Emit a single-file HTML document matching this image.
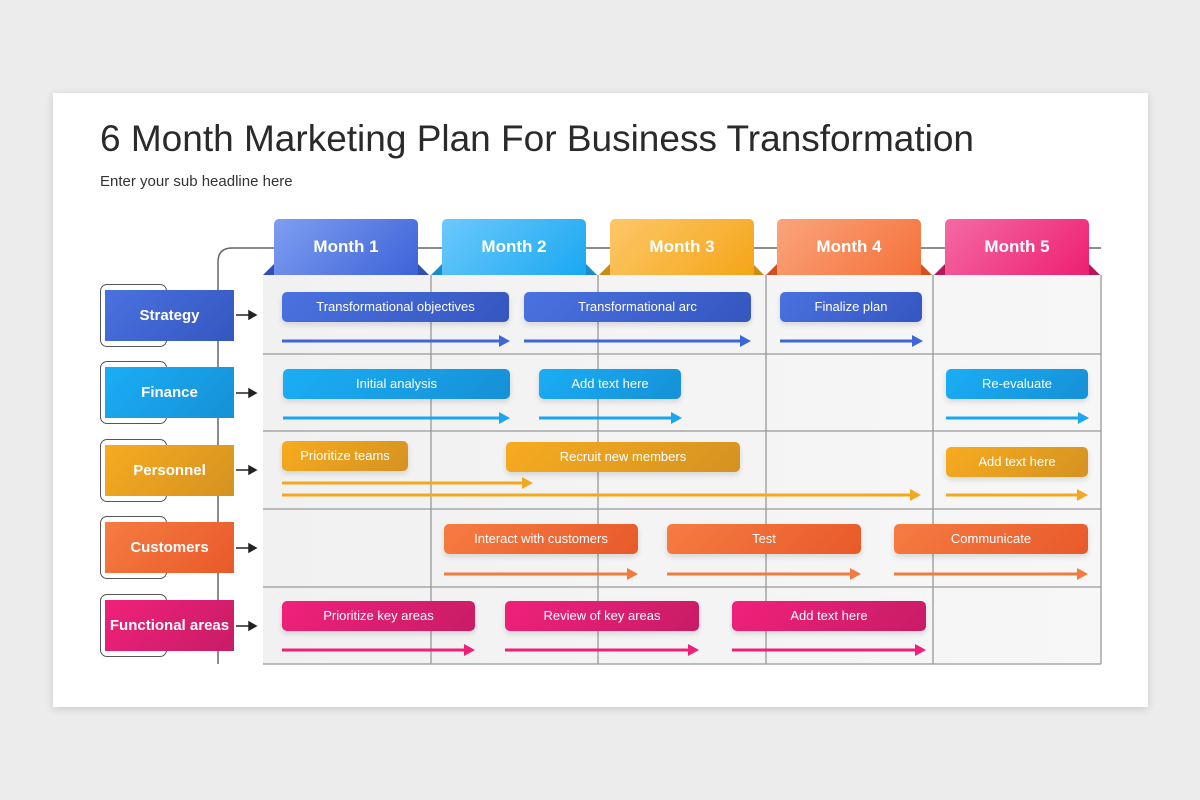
<!DOCTYPE html>
<html><head><meta charset="utf-8"><style>
*{margin:0;padding:0;box-sizing:border-box}
body{width:1200px;height:800px;background:#ececec;font-family:"Liberation Sans",sans-serif;position:relative;overflow:hidden}
.slide{position:absolute;left:53px;top:93px;width:1095px;height:614px;background:#fff;box-shadow:0 2px 8px rgba(0,0,0,.15)}
.t{position:absolute;left:100px;top:118px;font-size:37px;color:#2a2a2a;white-space:nowrap}
.st{position:absolute;left:100px;top:173px;font-size:15px;color:#333}
.grid{position:absolute;left:263px;top:275px;width:838px;height:389px;background:linear-gradient(90deg,#f1f1f1,#f7f7f7)}
.tab{position:absolute;top:219px;width:144px;height:56px;border-radius:5px 5px 0 0;color:#fff;font-weight:bold;font-size:17px;text-align:center;line-height:56px}
.lab{position:absolute;left:105px;width:129px;height:51px;color:#fff;font-weight:bold;font-size:15px;text-align:center;line-height:51px}
.ol{position:absolute;left:100px;width:67px;height:63px;border:1.5px solid #555;border-radius:7px}
.bar{position:absolute;height:30px;border-radius:5px;color:#fff;font-size:13px;text-align:center;line-height:30px;box-shadow:0 3px 6px rgba(0,0,0,.12)}
.b1{background:linear-gradient(135deg,#4a72e0,#3556bf)}
.b2{background:linear-gradient(135deg,#1aaef5,#1690d6)}
.b3{background:linear-gradient(135deg,#f7ab20,#d49221)}
.b4{background:linear-gradient(135deg,#f67c42,#e8592a)}
.b5{background:linear-gradient(135deg,#f0217a,#c81c66)}
svg{position:absolute;left:0;top:0}
</style></head><body>
<div class="slide"></div>
<div class="t">6 Month Marketing Plan For Business Transformation</div>
<div class="st">Enter your sub headline here</div>
<div class="grid"></div>
<svg width="1200" height="800">
<path d="M218 664 V262 Q218 248 232 248 H1101" fill="none" stroke="#666" stroke-width="1.5"/>
<g stroke="#999" stroke-width="1.3">
<line x1="263" y1="354" x2="1101" y2="354"/><line x1="263" y1="431" x2="1101" y2="431"/>
<line x1="263" y1="509" x2="1101" y2="509"/><line x1="263" y1="587" x2="1101" y2="587"/>
<line x1="263" y1="664" x2="1101" y2="664"/>
<line x1="431" y1="275" x2="431" y2="664"/><line x1="598" y1="275" x2="598" y2="664"/>
<line x1="766" y1="275" x2="766" y2="664"/><line x1="933" y1="275" x2="933" y2="664"/>
<line x1="1101" y1="275" x2="1101" y2="664"/>
</g>
<polygon points="263,275 274,264 274,275" fill="#2e4fb5"/><polygon points="418,264 429,275 418,275" fill="#2e4fb5"/>
<polygon points="431,275 442,264 442,275" fill="#1a8ccc"/><polygon points="586,264 597,275 586,275" fill="#1a8ccc"/>
<polygon points="599,275 610,264 610,275" fill="#c98d14"/><polygon points="753,264 764,275 753,275" fill="#c98d14"/>
<polygon points="766,275 777,264 777,275" fill="#d64e1e"/><polygon points="921,264 932,275 921,275" fill="#d64e1e"/>
<polygon points="934,275 945,264 945,275" fill="#b5185a"/><polygon points="1089,264 1100,275 1089,275" fill="#b5185a"/>
<g fill="#222" stroke="#222" stroke-width="1.5">
<line x1="236" y1="315" x2="250" y2="315"/><polygon points="249,311 256,315 249,319"/>
<line x1="236" y1="393" x2="250" y2="393"/><polygon points="249,389 256,393 249,397"/>
<line x1="236" y1="470" x2="250" y2="470"/><polygon points="249,466 256,470 249,474"/>
<line x1="236" y1="548" x2="250" y2="548"/><polygon points="249,544 256,548 249,552"/>
<line x1="236" y1="626" x2="250" y2="626"/><polygon points="249,622 256,626 249,630"/>
</g>
<g stroke-width="3">
<g stroke="#3f66d8" fill="#3f66d8">
<line x1="282" y1="341" x2="500" y2="341"/><polygon stroke="none" points="499,335 510,341 499,347"/>
<line x1="524" y1="341" x2="741" y2="341"/><polygon stroke="none" points="740,335 751,341 740,347"/>
<line x1="780" y1="341" x2="913" y2="341"/><polygon stroke="none" points="912,335 923,341 912,347"/>
</g>
<g stroke="#1aa6f0" fill="#1aa6f0">
<line x1="283" y1="418" x2="500" y2="418"/><polygon stroke="none" points="499,412 510,418 499,424"/>
<line x1="539" y1="418" x2="672" y2="418"/><polygon stroke="none" points="671,412 682,418 671,424"/>
<line x1="946" y1="418" x2="1079" y2="418"/><polygon stroke="none" points="1078,412 1089,418 1078,424"/>
</g>
<g stroke="#f3a81f" fill="#f3a81f">
<line x1="282" y1="483" x2="523" y2="483"/><polygon stroke="none" points="522,477 533,483 522,489"/>
<line x1="282" y1="495" x2="911" y2="495"/><polygon stroke="none" points="910,489 921,495 910,501"/>
<line x1="946" y1="495" x2="1078" y2="495"/><polygon stroke="none" points="1077,489 1088,495 1077,501"/>
</g>
<g stroke="#f47a3e" fill="#f47a3e">
<line x1="444" y1="574" x2="628" y2="574"/><polygon stroke="none" points="627,568 638,574 627,580"/>
<line x1="667" y1="574" x2="851" y2="574"/><polygon stroke="none" points="850,568 861,574 850,580"/>
<line x1="894" y1="574" x2="1078" y2="574"/><polygon stroke="none" points="1077,568 1088,574 1077,580"/>
</g>
<g stroke="#ee2078" fill="#ee2078">
<line x1="282" y1="650" x2="465" y2="650"/><polygon stroke="none" points="464,644 475,650 464,656"/>
<line x1="505" y1="650" x2="689" y2="650"/><polygon stroke="none" points="688,644 699,650 688,656"/>
<line x1="732" y1="650" x2="916" y2="650"/><polygon stroke="none" points="915,644 926,650 915,656"/>
</g>
</g>
</svg>
<div class="tab" style="left:274px;background:linear-gradient(135deg,#7e9ff0,#3d62d8)">Month 1</div>
<div class="tab" style="left:442px;background:linear-gradient(135deg,#6cc9fb,#1aa8f2)">Month 2</div>
<div class="tab" style="left:610px;background:linear-gradient(135deg,#fcc86a,#f5a517)">Month 3</div>
<div class="tab" style="left:777px;background:linear-gradient(135deg,#fba47c,#f4713a)">Month 4</div>
<div class="tab" style="left:945px;background:linear-gradient(135deg,#f46aa4,#ee1f72)">Month 5</div>

<div class="ol" style="top:284px"></div><div class="lab b1" style="top:290px">Strategy</div>
<div class="ol" style="top:361px"></div><div class="lab b2" style="top:367px">Finance</div>
<div class="ol" style="top:439px"></div><div class="lab b3" style="top:445px">Personnel</div>
<div class="ol" style="top:516px"></div><div class="lab b4" style="top:522px">Customers</div>
<div class="ol" style="top:594px"></div><div class="lab b5" style="top:600px">Functional areas</div>

<div class="bar b1" style="left:282px;top:292px;width:227px">Transformational objectives</div>
<div class="bar b1" style="left:524px;top:292px;width:227px">Transformational arc</div>
<div class="bar b1" style="left:780px;top:292px;width:142px">Finalize plan</div>
<div class="bar b2" style="left:283px;top:369px;width:227px">Initial analysis</div>
<div class="bar b2" style="left:539px;top:369px;width:142px">Add text here</div>
<div class="bar b2" style="left:946px;top:369px;width:142px">Re-evaluate</div>
<div class="bar b3" style="left:282px;top:441px;width:126px">Prioritize teams</div>
<div class="bar b3" style="left:506px;top:442px;width:234px">Recruit new members</div>
<div class="bar b3" style="left:946px;top:447px;width:142px">Add text here</div>
<div class="bar b4" style="left:444px;top:524px;width:194px">Interact with customers</div>
<div class="bar b4" style="left:667px;top:524px;width:194px">Test</div>
<div class="bar b4" style="left:894px;top:524px;width:194px">Communicate</div>
<div class="bar b5" style="left:282px;top:601px;width:193px">Prioritize key areas</div>
<div class="bar b5" style="left:505px;top:601px;width:194px">Review of key areas</div>
<div class="bar b5" style="left:732px;top:601px;width:194px">Add text here</div>
</body></html>
